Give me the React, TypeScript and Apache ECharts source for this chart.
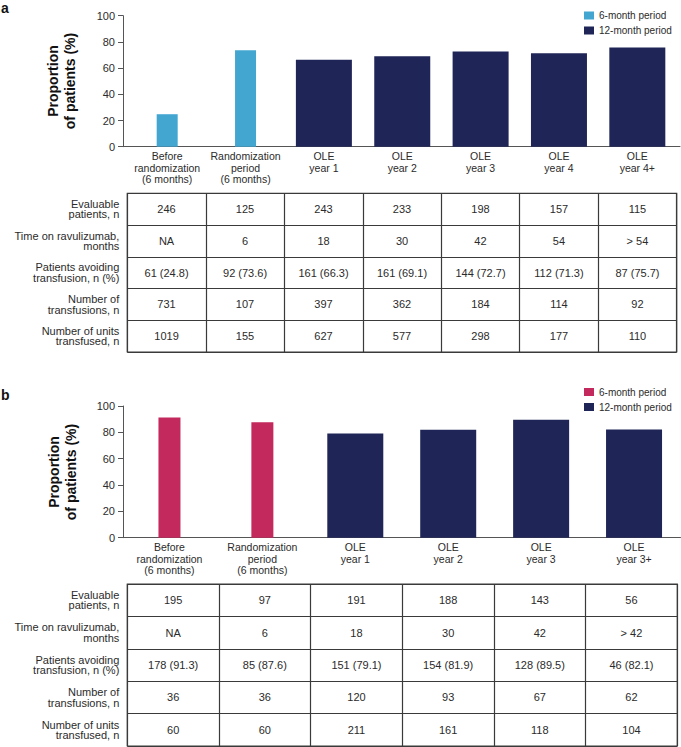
import React, { useEffect, useRef } from 'react';
import * as echarts from 'echarts';

const FONT = '"Liberation Sans", Arial, Helvetica, sans-serif';
const TEXT = '#2b2b2b';
const AXIS = '#555555';
const LINE = '#3a3a3a';
const NAVY = '#1f2556';
const BLUE = '#43a6d1';
const PINK = '#c4295d';

// ---------- Panel a ----------
const categoriesA = [
  'Before\nrandomization\n(6 months)',
  'Randomization\nperiod\n(6 months)',
  'OLE\nyear 1',
  'OLE\nyear 2',
  'OLE\nyear 3',
  'OLE\nyear 4',
  'OLE\nyear 4+',
];
const periodA = [6, 6, 12, 12, 12, 12, 12];
const evaluableA = [246, 125, 243, 233, 198, 157, 115];
const timeA = ['NA', '6', '18', '30', '42', '54', '> 54'];
const avoidNA = [61, 92, 161, 161, 144, 112, 87];
const avoidPctA = [24.8, 73.6, 66.3, 69.1, 72.7, 71.3, 75.7];
const transfusionsA = [731, 107, 397, 362, 184, 114, 92];
const unitsA = [1019, 155, 627, 577, 298, 177, 110];

// ---------- Panel b ----------
const categoriesB = [
  'Before\nrandomization\n(6 months)',
  'Randomization\nperiod\n(6 months)',
  'OLE\nyear 1',
  'OLE\nyear 2',
  'OLE\nyear 3',
  'OLE\nyear 3+',
];
const periodB = [6, 6, 12, 12, 12, 12];
const evaluableB = [195, 97, 191, 188, 143, 56];
const timeB = ['NA', '6', '18', '30', '42', '> 42'];
const avoidNB = [178, 85, 151, 154, 128, 46];
const avoidPctB = [91.3, 87.6, 79.1, 81.9, 89.5, 82.1];
const transfusionsB = [36, 36, 120, 93, 67, 62];
const unitsB = [60, 60, 211, 161, 118, 104];

const rowLabels = [
  'Evaluable\npatients, n',
  'Time on ravulizumab,\nmonths',
  'Patients avoiding\ntransfusion, n (%)',
  'Number of\ntransfusions, n',
  'Number of units\ntransfused, n',
];
const legendNames: Record<string, string> = {
  a6: '6-month period',
  a12: '12-month period',
  b6: '6-month period',
  b12: '12-month period',
};
const yMin = 0;
const yMax = 100;
const yInterval = 20;
const yTitle = 'Proportion\nof patients (%)';

function buildRows(ev: number[], time: string[], n: number[], pct: number[], tr: number[], un: number[]) {
  return [
    ev.map(String),
    time,
    n.map((v, i) => `${v} (${pct[i].toFixed(1)})`),
    tr.map(String),
    un.map(String),
  ];
}

function tableSeries(rows: string[][], xi: number, yi: number) {
  const data: number[][] = [];
  const texts: string[] = [];
  rows.forEach((row, r) =>
    row.forEach((t, c) => {
      data.push([c, r]);
      texts.push(t);
    })
  );
  return {
    type: 'custom',
    xAxisIndex: xi,
    yAxisIndex: yi,
    silent: true,
    data,
    renderItem: (params: any, api: any) => {
      const p = api.coord([api.value(0), api.value(1)]);
      return {
        type: 'text',
        x: p[0],
        y: p[1],
        style: {
          text: texts[params.dataIndex],
          align: 'center',
          verticalAlign: 'middle',
          fontSize: 11,
          fontFamily: FONT,
          fill: TEXT,
        },
      };
    },
  };
}

const catLabel = {
  interval: 0,
  margin: 4,
  fontSize: 10.5,
  lineHeight: 11.5,
  color: TEXT,
  fontFamily: FONT,
};

const valueAxis = (gridIndex: number) => ({
  gridIndex,
  type: 'value',
  min: yMin,
  max: yMax,
  interval: yInterval,
  axisLine: { show: true, lineStyle: { color: AXIS, width: 1 } },
  axisTick: { show: true, length: 5, lineStyle: { color: AXIS } },
  axisLabel: { fontSize: 11, color: TEXT, margin: 8, fontFamily: FONT },
  splitLine: { show: false },
});

const tableX = (gridIndex: number, n: number) => ({
  gridIndex,
  type: 'category',
  data: Array.from({ length: n }, (_, i) => String(i)),
  axisLine: { show: false },
  axisTick: { show: false },
  axisLabel: { show: false },
  splitLine: { show: true, interval: 0, lineStyle: { color: LINE, width: 1.2 } },
});

const tableY = (gridIndex: number) => ({
  gridIndex,
  type: 'category',
  inverse: true,
  data: rowLabels,
  axisLine: { show: false },
  axisTick: { show: false },
  axisLabel: { interval: 0, margin: 8, fontSize: 11, lineHeight: 10.5, color: TEXT, fontFamily: FONT },
  splitLine: { show: true, interval: 0, lineStyle: { color: LINE, width: 1.2 } },
});

const legend = (top: number, names: string[]) => ({
  left: 584,
  top,
  orient: 'vertical',
  itemWidth: 10,
  itemHeight: 8,
  itemGap: 3,
  padding: 0,
  icon: 'rect',
  selectedMode: false,
  data: names,
  formatter: (n: string) => legendNames[n],
  textStyle: { fontSize: 10, lineHeight: 12, color: TEXT, fontFamily: FONT },
});

export default function App() {
  const ref = useRef<HTMLDivElement>(null);
  useEffect(() => {
    if (!ref.current) return;
    const chart = echarts.init(ref.current, undefined, { renderer: 'svg' });
    const rowsA = buildRows(evaluableA, timeA, avoidNA, avoidPctA, transfusionsA, unitsA);
    const rowsB = buildRows(evaluableB, timeB, avoidNB, avoidPctB, transfusionsB, unitsB);
    const option: any = {
      animation: false,
      textStyle: { fontFamily: FONT },
      grid: [
        { left: 123, top: 15.7, width: 557, height: 131, outerBoundsMode: 'none' },
        { left: 128, top: 15.7, width: 548.5, height: 131, outerBoundsMode: 'none' },
        {
          left: 127.3, top: 193.3, width: 549.4, height: 158.7, show: true,
          borderColor: LINE, borderWidth: 1.2, backgroundColor: 'transparent', outerBoundsMode: 'none',
        },
        { left: 123, top: 406, width: 557.5, height: 131.7, outerBoundsMode: 'none' },
        {
          left: 127.3, top: 584, width: 550, height: 162, show: true,
          borderColor: LINE, borderWidth: 1.2, backgroundColor: 'transparent', outerBoundsMode: 'none',
        },
      ],
      xAxis: [
        {
          gridIndex: 0, type: 'value', min: 0, max: 1,
          axisLine: { show: true, onZero: false, lineStyle: { color: AXIS, width: 1 } },
          axisTick: { show: false }, axisLabel: { show: false }, splitLine: { show: false },
        },
        {
          gridIndex: 1, type: 'category', data: categoriesA,
          axisLine: { show: false }, axisTick: { show: false }, axisLabel: catLabel,
        },
        { gridIndex: 1, type: 'category', data: categoriesA, show: false },
        tableX(2, categoriesA.length),
        {
          gridIndex: 3, type: 'category', data: categoriesB,
          axisLine: { show: true, onZero: false, lineStyle: { color: AXIS, width: 1 } },
          axisTick: { show: false }, axisLabel: catLabel,
        },
        { gridIndex: 3, type: 'category', data: categoriesB, show: false, position: 'bottom' },
        tableX(4, categoriesB.length),
      ],
      yAxis: [
        valueAxis(0),
        { gridIndex: 1, type: 'value', min: yMin, max: yMax, show: false },
        tableY(2),
        valueAxis(3),
        tableY(4),
      ],
      legend: [legend(9.5, ['a6', 'a12']), legend(386, ['b6', 'b12'])],
      series: [
        {
          type: 'bar', name: 'a6', xAxisIndex: 1, yAxisIndex: 1, barWidth: 21,
          itemStyle: { color: BLUE },
          data: avoidPctA.map((v, i) => (periodA[i] === 6 ? v : null)),
        },
        {
          type: 'bar', name: 'a12', xAxisIndex: 2, yAxisIndex: 1, barWidth: 56,
          itemStyle: { color: NAVY },
          data: avoidPctA.map((v, i) => (periodA[i] === 12 ? v : null)),
        },
        tableSeries(rowsA, 3, 2),
        {
          type: 'bar', name: 'b6', xAxisIndex: 4, yAxisIndex: 3, barWidth: 22,
          itemStyle: { color: PINK },
          data: avoidPctB.map((v, i) => (periodB[i] === 6 ? v : null)),
        },
        {
          type: 'bar', name: 'b12', xAxisIndex: 5, yAxisIndex: 3, barWidth: 56,
          itemStyle: { color: NAVY },
          data: avoidPctB.map((v, i) => (periodB[i] === 12 ? v : null)),
        },
        tableSeries(rowsB, 6, 4),
      ],
      graphic: [
        {
          type: 'text', x: 1, y: 8,
          style: {
            text: 'a', font: `bold 14px ${FONT}`, fill: '#111',
            verticalAlign: 'middle', textVerticalAlign: 'middle',
          },
        },
        {
          type: 'text', x: 1, y: 395,
          style: {
            text: 'b', font: `bold 14px ${FONT}`, fill: '#111',
            verticalAlign: 'middle', textVerticalAlign: 'middle',
          },
        },
        {
          type: 'text', x: 61, y: 81, rotation: Math.PI / 2,
          style: {
            text: yTitle, font: `bold 14px ${FONT}`, fill: '#111', lineHeight: 17,
            align: 'center', textAlign: 'center', verticalAlign: 'middle', textVerticalAlign: 'middle',
          },
        },
        {
          type: 'text', x: 62, y: 472, rotation: Math.PI / 2,
          style: {
            text: yTitle, font: `bold 14px ${FONT}`, fill: '#111', lineHeight: 17,
            align: 'center', textAlign: 'center', verticalAlign: 'middle', textVerticalAlign: 'middle',
          },
        },
      ],
    };
    chart.setOption(option);
    return () => chart.dispose();
  }, []);
  return (
    <div
      ref={ref}
      style={{ position: 'absolute', left: 0, top: 0, width: 681, height: 747, background: '#fff' }}
    />
  );
}
